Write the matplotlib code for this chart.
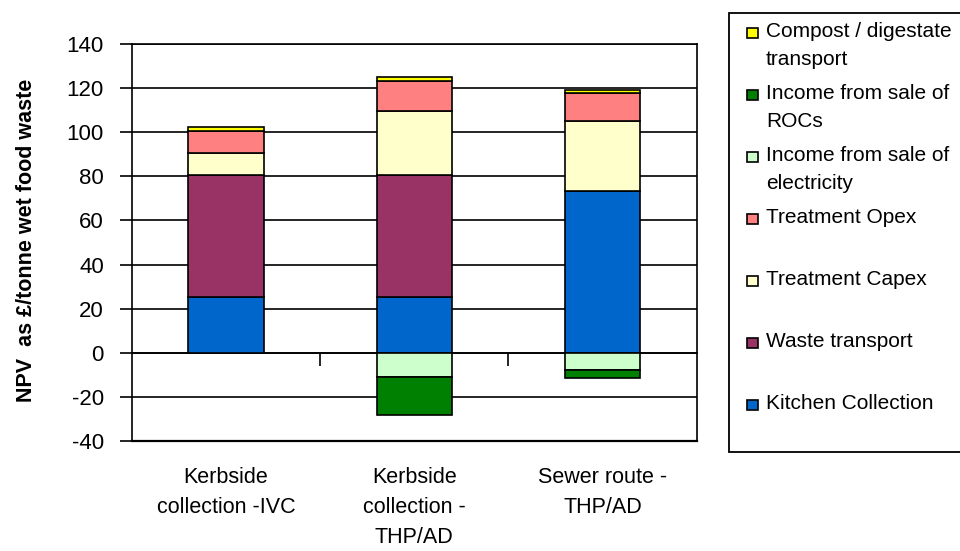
import matplotlib
matplotlib.use("Agg")
import matplotlib.pyplot as plt
from matplotlib.patches import Rectangle
import numpy as np

plt.rcParams['font.family'] = ['Liberation Sans', 'DejaVu Sans']
plt.rcParams['axes.unicode_minus'] = False

categories = ["Kerbside\ncollection -IVC", "Kerbside\ncollection -\nTHP/AD", "Sewer route -\nTHP/AD"]

kitchen_collection = [25.4, 25.4, 73.4]
waste_transport = [55.2, 55.2, 0.0]
treatment_capex = [10.2, 29.3, 31.9]
treatment_opex = [9.8, 13.4, 12.7]
compost_transport = [1.7, 1.7, 1.3]
income_electricity = [0.0, -10.9, -7.9]
income_rocs = [0.0, -17.4, -3.8]

pos_series = [
    ("Kitchen Collection", kitchen_collection, "#0066CC"),
    ("Waste transport", waste_transport, "#993366"),
    ("Treatment Capex", treatment_capex, "#FFFFCC"),
    ("Treatment Opex", treatment_opex, "#FF8080"),
    ("Compost / digestate\ntransport", compost_transport, "#FFFF00"),
]
neg_series = [
    ("Income from sale of\nelectricity", income_electricity, "#CCFFCC"),
    ("Income from sale of\nROCs", income_rocs, "#008000"),
]
legend_order = [
    ("Compost / digestate\ntransport", "#FFFF00"),
    ("Income from sale of\nROCs", "#008000"),
    ("Income from sale of\nelectricity", "#CCFFCC"),
    ("Treatment Opex", "#FF8080"),
    ("Treatment Capex", "#FFFFCC"),
    ("Waste transport", "#993366"),
    ("Kitchen Collection", "#0066CC"),
]

W, H = 960, 551
fig = plt.figure(figsize=(W / 100, H / 100), dpi=100)
ax = fig.add_axes([131.7 / W, 1 - 440.7 / H, (696.7 - 131.7) / W, (440.7 - 44.3) / H])

x = np.arange(len(categories))
bw = 0.4
bottom = np.zeros(len(categories))
for name, vals, col in pos_series:
    v = np.array(vals)
    ax.bar(x, v, bw, bottom=bottom, color=col, edgecolor='black', linewidth=1.2, zorder=3)
    bottom += v
nb = np.zeros(len(categories))
for name, vals, col in neg_series:
    v = np.array(vals)
    mask = v != 0
    ax.bar(x[mask], v[mask], bw, bottom=nb[mask], color=col, edgecolor='black', linewidth=1.2, zorder=3)
    nb += v

ax.set_xlim(-0.5, 2.5)
ax.set_ylim(-40, 140)
ax.set_yticks(np.arange(-40, 141, 20))
ax.yaxis.grid(True, color='black', linewidth=1.2, zorder=0)
ax.set_axisbelow(True)
ax.tick_params(axis='y', direction='out', length=9, width=1.2, labelsize=16, pad=11)
for s in ax.spines.values():
    s.set_linewidth(1.2)
    s.set_color('black')

# bottom spine at zero with boundary ticks
ax.spines['bottom'].set_position(('data', 0))
ax.set_xticks([0.5, 1.5])
ax.set_xticklabels([])
ax.tick_params(axis='x', direction='out', length=9, width=1.2)
ax.axhline(-40, color='black', linewidth=1.6, clip_on=False, zorder=4)

sec = ax.secondary_xaxis('bottom')
sec.set_xticks(x)
sec.set_xticklabels(categories, fontsize=15.5, linespacing=1.55)
sec.tick_params(length=0, pad=19)
sec.spines['bottom'].set_visible(False)

ax.set_ylabel("NPV  as £/tonne wet food waste", fontsize=15.5, fontweight='bold')
ax.yaxis.set_label_coords(-0.167, 0.506)

# legend drawn manually
fig.patches.append(Rectangle((729.3 / W, 1 - 451.7 / H), (980 - 729.3) / W, (451.7 - 13.3) / H,
                             transform=fig.transFigure, facecolor='white', edgecolor='black',
                             linewidth=1.3, clip_on=False))
for i, (label, col) in enumerate(legend_order):
    yc = 33 + 62 * i
    fig.patches.append(Rectangle((746.5 / W, 1 - (yc + 5) / H), 11 / W, 10 / H,
                                 transform=fig.transFigure, facecolor=col, edgecolor='black',
                                 linewidth=1.2))
    fig.text(766 / W, 1 - (yc - 11) / H, label, fontsize=15, va='top', ha='left',
             linespacing=1.6)

fig.savefig("out.png", dpi=100)
